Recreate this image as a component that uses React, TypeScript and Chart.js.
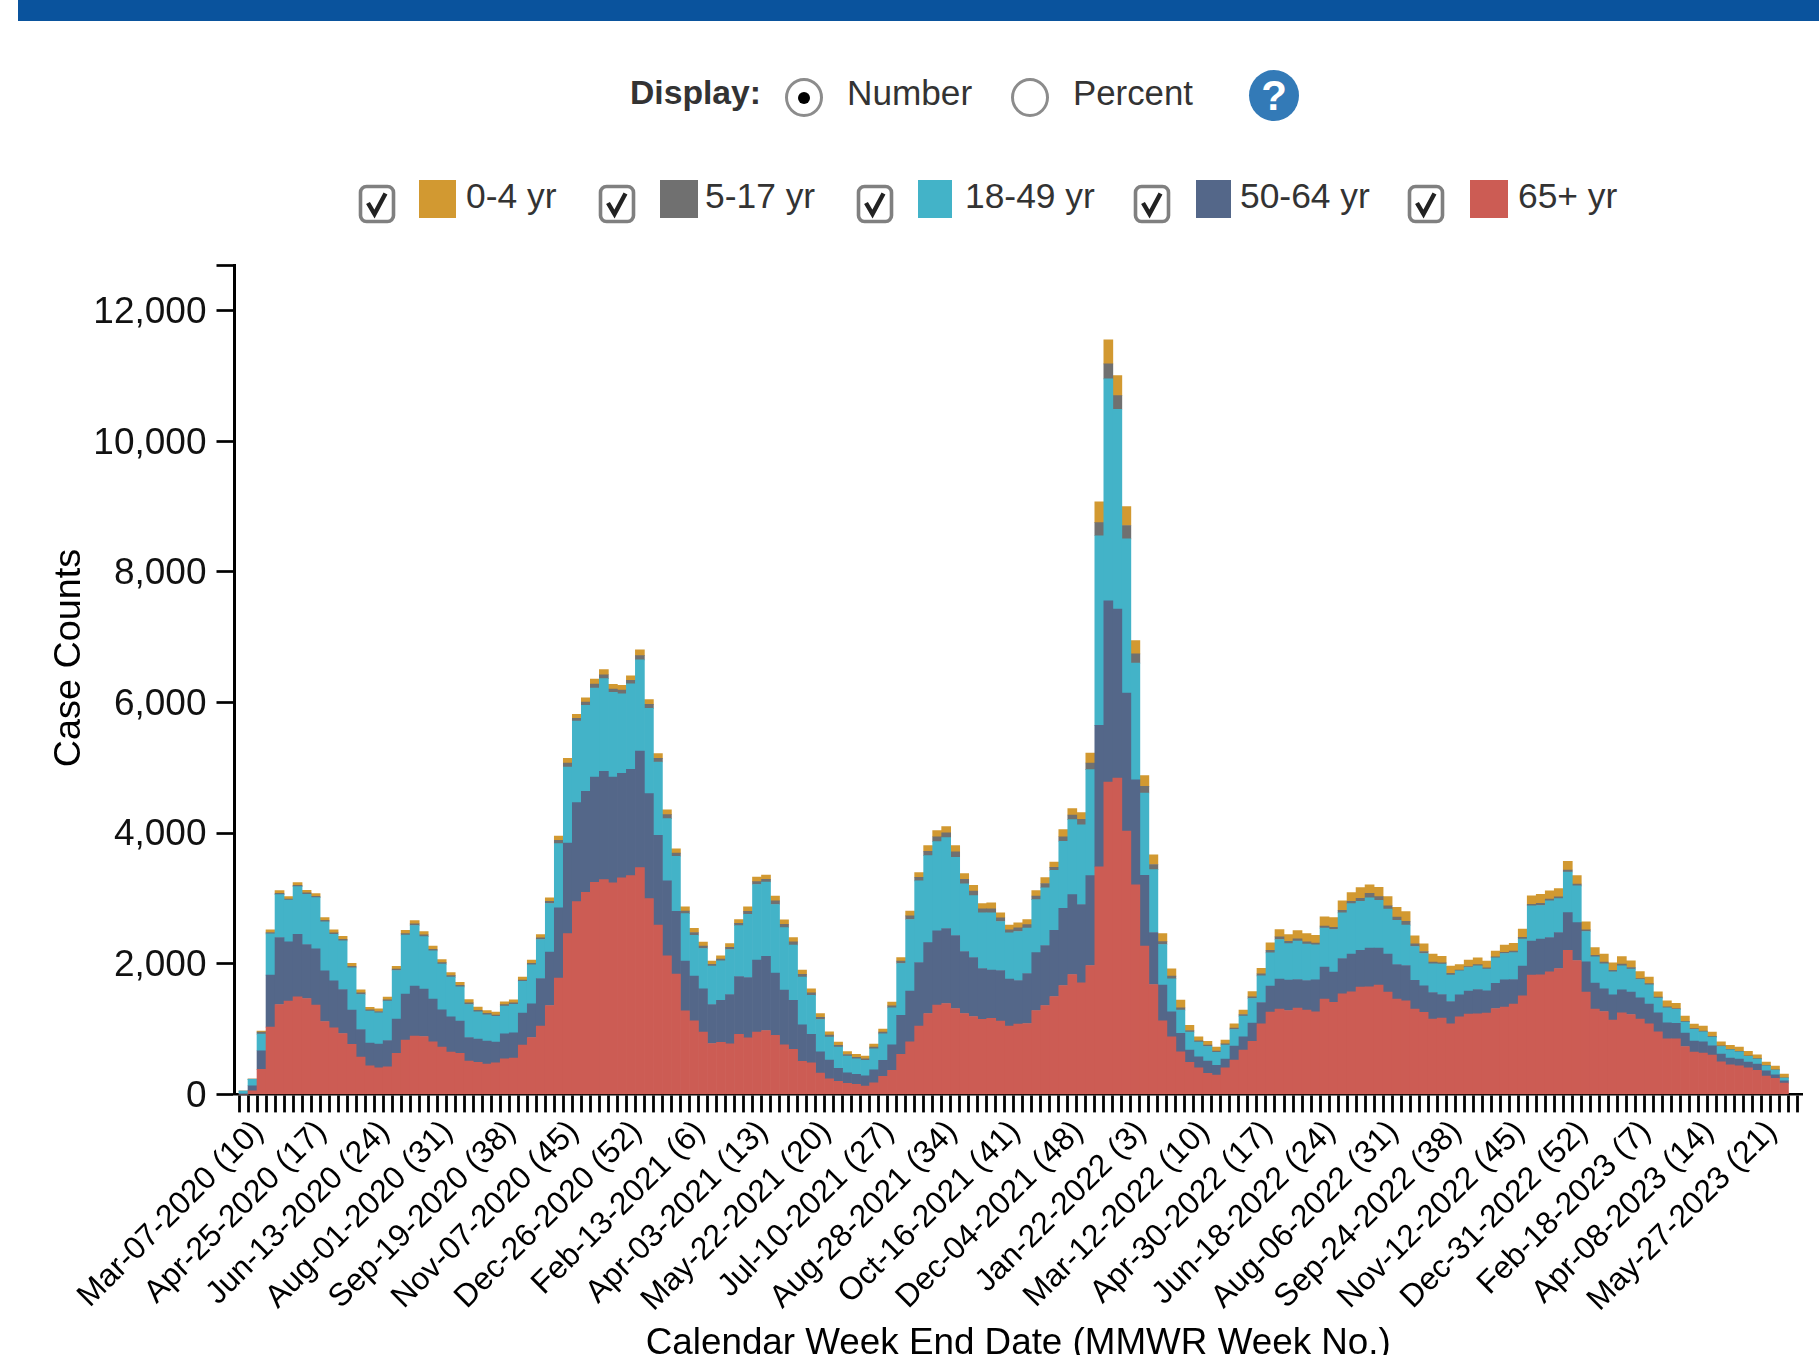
import React, { useEffect, useRef } from "react";
import { Chart, registerables } from "chart.js";

Chart.register(...registerables);

const tickLabels = [
  "Mar-07-2020 (10)", "Apr-25-2020 (17)", "Jun-13-2020 (24)", "Aug-01-2020 (31)", "Sep-19-2020 (38)",
  "Nov-07-2020 (45)", "Dec-26-2020 (52)", "Feb-13-2021 (6)", "Apr-03-2021 (13)", "May-22-2021 (20)",
  "Jul-10-2021 (27)", "Aug-28-2021 (34)", "Oct-16-2021 (41)", "Dec-04-2021 (48)", "Jan-22-2022 (3)",
  "Mar-12-2022 (10)", "Apr-30-2022 (17)", "Jun-18-2022 (24)", "Aug-06-2022 (31)", "Sep-24-2022 (38)",
  "Nov-12-2022 (45)", "Dec-31-2022 (52)", "Feb-18-2023 (7)", "Apr-08-2023 (14)", "May-27-2023 (21)",
];

const yTickValues = [0, 2000, 4000, 6000, 8000, 10000, 12000];
const yMax = 12690;

const age65plus = [
  0, 56, 383, 1030, 1377, 1428, 1494, 1469, 1367, 1117,
  1020, 933, 765, 571, 439, 408, 423, 627, 831, 893,
  887, 806, 724, 648, 627, 510, 490, 464, 485, 546,
  556, 755, 872, 1046, 1362, 1780, 2463, 2953, 3096, 3249,
  3290, 3239, 3315, 3351, 3473, 2999, 2591, 2122, 1841, 1280,
  1127, 954, 780, 796, 775, 918, 867, 954, 979, 903,
  760, 689, 505, 485, 326, 240, 199, 168, 153, 128,
  179, 275, 367, 612, 806, 1046, 1239, 1367, 1392, 1316,
  1239, 1193, 1148, 1163, 1122, 1046, 1076, 1086, 1285, 1362,
  1499, 1668, 1836, 1709, 1974, 3483, 4781, 4843, 4034, 3208,
  2270, 1683, 1127, 882, 653, 490, 408, 321, 296, 408,
  525, 678, 811, 1081, 1260, 1306, 1285, 1321, 1290, 1265,
  1459, 1408, 1540, 1571, 1642, 1647, 1673, 1566, 1459, 1433,
  1306, 1255, 1153, 1168, 1081, 1188, 1229, 1234, 1244, 1316,
  1336, 1382, 1510, 1826, 1831, 1877, 1928, 2208, 2050, 1566,
  1306, 1270, 1137, 1250, 1224, 1153, 1081, 959, 852, 852,
  734, 648, 632, 602, 500, 454, 439, 408, 367, 280,
  245, 173,
];

const age50to64 = [
  3, 77, 286, 796, 1025, 908, 959, 826, 862, 775,
  719, 673, 525, 423, 347, 362, 403, 525, 704, 765,
  724, 653, 571, 541, 495, 362, 357, 352, 316, 383,
  388, 490, 515, 729, 816, 1076, 1387, 1515, 1545, 1612,
  1658, 1622, 1601, 1627, 1785, 1607, 1377, 1148, 964, 760,
  683, 663, 597, 643, 755, 887, 923, 1102, 1137, 954,
  836, 750, 561, 434, 326, 286, 199, 163, 153, 158,
  199, 245, 393, 597, 775, 974, 1086, 1137, 1148, 1117,
  949, 903, 780, 740, 775, 719, 668, 765, 887, 918,
  1015, 1183, 1224, 1199, 1377, 2167, 2777, 2587, 2110, 1609,
  1086, 796, 546, 383, 281, 189, 168, 189, 148, 133,
  214, 204, 280, 326, 398, 459, 464, 439, 454, 490,
  490, 464, 541, 576, 566, 592, 566, 581, 530, 541,
  439, 408, 408, 362, 342, 337, 352, 372, 342, 383,
  418, 377, 454, 520, 546, 525, 551, 576, 581, 464,
  398, 347, 388, 352, 342, 326, 301, 291, 245, 235,
  204, 168, 173, 143, 117, 102, 102, 87, 97, 82,
  56, 36,
];

const age18to49 = [
  48, 97, 255, 632, 658, 638, 729, 770, 785, 750,
  714, 745, 648, 536, 490, 479, 602, 745, 903, 928,
  806, 740, 699, 607, 525, 505, 418, 403, 393, 423,
  434, 485, 597, 597, 745, 984, 1163, 1250, 1316, 1362,
  1418, 1295, 1219, 1311, 1397, 1306, 1122, 954, 842, 729,
  627, 617, 587, 607, 689, 780, 969, 1158, 1137, 1051,
  959, 847, 729, 597, 495, 352, 326, 255, 240, 235,
  321, 408, 566, 796, 1097, 1250, 1331, 1367, 1392, 1199,
  1035, 949, 852, 877, 750, 709, 750, 694, 811, 882,
  918, 1025, 1148, 1219, 1622, 2905, 3398, 3062, 2363, 1786,
  1260, 964, 622, 505, 357, 275, 224, 224, 199, 214,
  255, 316, 377, 408, 510, 607, 561, 587, 556, 536,
  597, 653, 699, 775, 750, 770, 734, 689, 678, 617,
  520, 495, 439, 464, 403, 367, 362, 362, 332, 393,
  403, 413, 413, 541, 515, 561, 520, 622, 561, 464,
  403, 383, 352, 367, 352, 280, 296, 224, 230, 214,
  168, 179, 153, 133, 117, 128, 112, 87, 77, 77,
  71, 41,
];

const age5to17 = [
  0, 3, 30, 21, 20, 18, 20, 20, 20, 22,
  22, 24, 24, 24, 19, 20, 20, 22, 25, 25,
  25, 24, 24, 24, 24, 25, 24, 22, 22, 22,
  24, 22, 24, 25, 32, 52, 60, 40, 50, 60,
  60, 50, 55, 50, 65, 60, 55, 60, 47, 40,
  42, 37, 26, 26, 35, 35, 45, 45, 42, 55,
  50, 50, 42, 40, 35, 30, 28, 25, 23, 23,
  25, 25, 32, 35, 55, 55, 68, 75, 75, 82,
  70, 70, 60, 62, 55, 45, 55, 55, 55, 68,
  45, 70, 70, 85, 102, 200, 230, 209, 204, 143,
  102, 77, 45, 40, 35, 25, 20, 20, 22, 20,
  22, 25, 25, 30, 40, 40, 35, 35, 35, 25,
  30, 35, 40, 35, 45, 71, 55, 50, 50, 60,
  40, 30, 25, 22, 28, 12, 15, 20, 20, 15,
  18, 22, 28, 25, 35, 28, 25, 30, 30, 25,
  22, 25, 22, 28, 25, 15, 18, 15, 15, 15,
  12, 12, 12, 10, 10, 8, 8, 8, 8, 6,
  6, 5,
];

const age0to4 = [
  1, 2, 16, 40, 41, 38, 41, 41, 41, 44,
  44, 47, 47, 47, 37, 41, 41, 44, 51, 51,
  51, 47, 47, 47, 47, 51, 47, 44, 44, 44,
  47, 44, 47, 51, 55, 65, 73, 62, 67, 78,
  78, 72, 73, 72, 88, 73, 73, 73, 65, 62,
  65, 60, 50, 50, 57, 57, 67, 67, 65, 73,
  67, 67, 65, 62, 57, 52, 49, 46, 43, 43,
  46, 46, 55, 57, 73, 73, 85, 93, 93, 97,
  88, 88, 83, 91, 78, 72, 78, 78, 83, 90,
  82, 108, 98, 104, 153, 318, 367, 306, 291, 204,
  163, 147, 123, 113, 118, 77, 62, 57, 60, 57,
  65, 67, 82, 87, 113, 113, 103, 128, 128, 118,
  143, 149, 144, 133, 164, 128, 144, 144, 149, 149,
  123, 118, 123, 100, 110, 85, 97, 102, 102, 87,
  110, 121, 125, 128, 138, 125, 128, 133, 128, 123,
  121, 123, 116, 115, 103, 107, 99, 82, 92, 77,
  80, 70, 75, 67, 61, 58, 63, 69, 58, 50,
  55, 56,
];

const seriesNames = ["0-4 yr", "5-17 yr", "18-49 yr", "50-64 yr", "65+ yr"];
const seriesValues = [age0to4, age5to17, age18to49, age50to64, age65plus];
const seriesColors = ["#D29931", "#707070", "#43B3C8", "#546789", "#CC5C54"];

const FONT = "'Liberation Sans', Arial, sans-serif";
const W = 1819;
const H = 1355;

// Scale slots: one empty week slot before the first bar, two after the last.
const slots = age65plus.length + 3;
const categories: string[] = Array.from({ length: slots }, (_, i) =>
  i >= 1 && (i - 1) % 7 === 0 ? tickLabels[(i - 1) / 7] ?? "" : ""
);
const pad = (v: number[]) => [null, ...v, null, null];

const yTitlePlugin = {
  id: "yTitle",
  afterDraw(chart: any) {
    const { ctx } = chart;
    ctx.save();
    ctx.translate(69.5, 658);
    ctx.rotate(-Math.PI / 2);
    ctx.font = `37.8px ${FONT}`;
    ctx.fillStyle = "#000";
    ctx.textAlign = "center";
    ctx.textBaseline = "middle";
    ctx.fillText("Case Counts", 0, 0);
    ctx.restore();
  },
};

const legendLayout = [
  { box: 358, swatch: 419, swatchW: 37, text: 466 },
  { box: 598, swatch: 660, swatchW: 38, text: 705 },
  { box: 856, swatch: 918, swatchW: 34, text: 965 },
  { box: 1133, swatch: 1196, swatchW: 35, text: 1240 },
  { box: 1407, swatch: 1470, swatchW: 38, text: 1518 },
];

const abs = (left: number, top: number, extra: React.CSSProperties = {}): React.CSSProperties => ({
  position: "absolute",
  left,
  top,
  ...extra,
});

const labelStyle: React.CSSProperties = {
  fontFamily: FONT,
  fontSize: 35.4,
  lineHeight: "35px",
  color: "#333",
  whiteSpace: "nowrap",
};

function Radio({ left, checked }: { left: number; checked?: boolean }) {
  return (
    <div
      style={abs(left, 78, {
        width: 38,
        height: 39,
        boxSizing: "border-box",
        border: "3px solid #8c8c8c",
        borderRadius: "50%",
        background: "#fff",
      })}
    >
      {checked ? (
        <div style={abs(10, 10.5, { width: 12, height: 12, borderRadius: "50%", background: "#000" })} />
      ) : null}
    </div>
  );
}

function CheckBox({ left }: { left: number }) {
  return (
    <svg style={abs(left, 184)} width={38} height={40} viewBox="0 0 38 40">
      <rect x={2.5} y={2.5} width={33} height={35} rx={6} ry={6} fill="#fff" stroke="#808080" strokeWidth={3.6} />
      <path d="M10 19 L16.5 30 L27.5 9.5" fill="none" stroke="#222" strokeWidth={4.4} />
    </svg>
  );
}

export default function App() {
  const ref = useRef<HTMLCanvasElement | null>(null);

  useEffect(() => {
    if (!ref.current) return;
    const datasets = [4, 3, 2, 1, 0].map((k) => ({
      label: seriesNames[k],
      data: pad(seriesValues[k]),
      backgroundColor: seriesColors[k],
      borderWidth: 0,
      barPercentage: 1,
      categoryPercentage: 1,
      stack: "all",
    }));
    const chart = new Chart(ref.current, {
      type: "bar",
      data: { labels: categories, datasets },
      plugins: [yTitlePlugin],
      options: {
        animation: false,
        responsive: false,
        maintainAspectRatio: false,
        layout: { padding: { left: 0, top: 265.7, right: 17, bottom: 0 } },
        plugins: { legend: { display: false }, tooltip: { enabled: false }, title: { display: false } },
        scales: {
          x: {
            type: "category",
            stacked: true,
            offset: false,
            afterFit(s: any) {
              s.height = 260.6;
              s.paddingLeft = 0;
              s.paddingRight = 0;
            },
            border: { color: "#000", width: 2.5 },
            grid: {
              drawOnChartArea: false,
              drawTicks: true,
              tickLength: 18,
              tickWidth: 2.8,
              tickColor: "#000",
            },
            ticks: {
              autoSkip: false,
              maxRotation: 45,
              minRotation: 45,
              labelOffset: 15,
              padding: 1,
              color: "#000",
              font: { family: FONT, size: 31.8 },
              callback(_v: any, i: number) {
                return categories[i];
              },
            },
            title: {
              display: true,
              text: "Calendar Week End Date (MMWR Week No.)",
              color: "#000",
              font: { family: FONT, size: 36.8, lineHeight: 1 },
              padding: { top: 0, bottom: -7 },
            },
          },
          y: {
            stacked: true,
            min: 0,
            max: yMax,
            afterBuildTicks(s: any) {
              s.ticks = [...yTickValues, yMax].map((value) => ({ value }));
            },
            afterFit(s: any) {
              s.width = 234.5;
              s.paddingTop = 0;
              s.paddingBottom = 0;
            },
            border: { color: "#000", width: 3 },
            grid: {
              drawOnChartArea: false,
              drawTicks: true,
              tickLength: 18,
              tickWidth: 2.7,
              tickColor: "#000",
            },
            ticks: {
              padding: 10,
              labelOffset: 2,
              color: "#111",
              font: { family: FONT, size: 37 },
              callback(v: any) {
                return yTickValues.includes(v) ? Number(v).toLocaleString("en-US") : "";
              },
            },
          },
        },
      },
    } as any);
    return () => chart.destroy();
  }, []);

  return (
    <div style={{ position: "fixed", left: 0, top: 0, width: W, height: H, overflow: "hidden", background: "#fff" }}>
      <div style={abs(18, 0, { width: W - 18, height: 21, background: "#0A539D" })} />
      <span style={abs(630, 75, { ...labelStyle, fontWeight: 700, fontSize: 33.7, lineHeight: "35px" })}>Display:</span>
      <Radio left={784.5} checked />
      <span style={abs(847, 75, { ...labelStyle, fontSize: 35.2 })}>Number</span>
      <Radio left={1010.5} />
      <span style={abs(1073, 75, { ...labelStyle, fontSize: 34.8 })}>Percent</span>
      <div
        style={abs(1249, 70, {
          width: 50,
          height: 51,
          borderRadius: "50%",
          background: "#337AB7",
          color: "#fff",
          fontFamily: FONT,
          fontWeight: 700,
          fontSize: 42,
          lineHeight: "51px",
          textAlign: "center",
        })}
      >
        ?
      </div>
      {seriesNames.map((name, i) => (
        <React.Fragment key={name}>
          <CheckBox left={legendLayout[i].box} />
          <div
            style={abs(legendLayout[i].swatch, 180, {
              width: legendLayout[i].swatchW,
              height: 38,
              background: seriesColors[i],
            })}
          />
          <span style={abs(legendLayout[i].text, 178.5, labelStyle)}>{name}</span>
        </React.Fragment>
      ))}
      <canvas ref={ref} width={W} height={H} style={{ position: "absolute", left: 0, top: 0, width: W, height: H }} />
    </div>
  );
}
